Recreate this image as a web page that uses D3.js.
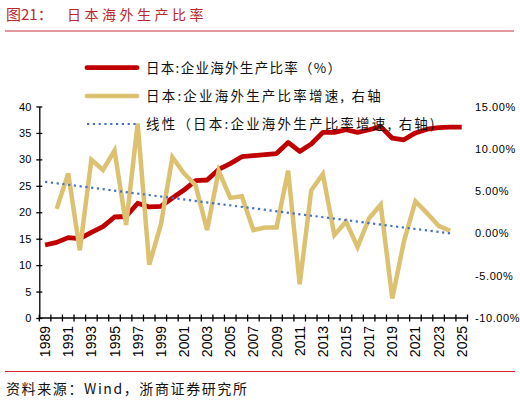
<html><head>
<meta charset="utf-8">
<title>日本海外生产比率</title>
<script src="https://d3js.org/d3.v7.min.js"></script>
<style>
  body { margin: 0; background: #fff; }
  svg text { font-family: "Liberation Sans", Arial, sans-serif; }
  .cjk { font-family: "Noto Sans CJK SC", sans-serif; }
  .axis path, .axis line { stroke: #000; stroke-width: 1.3; }
  .axis text { fill: #000; }
</style>
</head>
<body>
<svg id="chart" width="520" height="402"></svg>
<script>
// categories
const years = [1989, 1990, 1991, 1992, 1993, 1994, 1995, 1996, 1997, 1998, 1999,
  2000, 2001, 2002, 2003, 2004, 2005, 2006, 2007, 2008, 2009, 2010, 2011, 2012,
  2013, 2014, 2015, 2016, 2017, 2018, 2019, 2020, 2021, 2022, 2023, 2024, 2025];

// 日本:企业海外生产比率 (%), left axis
const ratio = [13.8, 14.3, 15.2, 15.0, 16.2, 17.3, 19.1, 19.2, 21.7, 21.0, 21.1,
  22.7, 24.2, 26.0, 26.1, 28.1, 29.2, 30.5, 30.7, 30.9, 31.1, 33.2, 31.5, 32.9,
  35.1, 35.1, 35.6, 35.1, 35.6, 36.2, 34.0, 33.7, 35.0, 35.7, 36.0, 36.1, 36.1];

// 增速 (%), right axis -- no value for 1989 and 2025
const growth = [null, 2.9, 7.1, -2.0, 8.7, 7.5, 9.8, 1.0, 13.0, -3.7, 1.0,
  9.0, 7.1, 5.7, 0.4, 7.4, 4.2, 4.4, 0.4, 0.7, 0.7, 7.4, -6.0, 5.1,
  7.0, -0.2, 1.4, -1.6, 1.8, 3.4, -7.7, -1.0, 3.8, 2.4, 0.9, 0.3, null];

// linear trend of the growth series (end points)
const trendYears = [1989, 2024];
const trendValues = [6.1, 0.0];

// tick labels
const leftTicks = [0, 5, 10, 15, 20, 25, 30, 35, 40];
const rightTicks = [-10, -5, 0, 5, 10, 15];
const labelYears = [1989, 1991, 1993, 1995, 1997, 1999, 2001, 2003, 2005, 2007,
  2009, 2011, 2013, 2015, 2017, 2019, 2021, 2023, 2025];

const legendLabels = [
  "日本:企业海外生产比率（%）",
  "日本:企业海外生产比率增速, 右轴",
  "线性（日本:企业海外生产比率增速, 右轴)"
];

const red = "#c00000", gold = "#dcc171", blue = "#4472c4", titleRed = "#b8282e";

let svg = d3.select("svg#chart");
let plot = { left: 39.3, right: 467.5, top: 106.5, bottom: 318 };

// scales
const x = d3.scaleBand().domain(years).range([plot.left, plot.right]);
const cx = d => x(d) + x.bandwidth() / 2;
const yLeft = d3.scaleLinear().domain([0, 40]).range([plot.bottom, plot.top]);
const yRight = d3.scaleLinear().domain([-10, 15]).range([plot.bottom, plot.top]);

// title + rules
svg.append("text").attr("class", "cjk").attr("x", 6).attr("y", 20)
  .style("font-size", "15px").style("fill", titleRed).text("图21：");
svg.append("text").attr("class", "cjk").attr("x", 67).attr("y", 20)
  .style("font-size", "14px").style("letter-spacing", "3.5px").style("fill", titleRed)
  .text("日本海外生产比率");
svg.append("line").attr("x1", 5).attr("x2", 514).attr("y1", 31).attr("y2", 31)
  .style("stroke", "#c8323a").style("stroke-width", 1);
svg.append("line").attr("x1", 5).attr("x2", 515).attr("y1", 371.5).attr("y2", 371.5)
  .style("stroke", "#d9242b").style("stroke-width", 1);
svg.append("text").attr("class", "cjk").attr("x", 6).attr("y", 394)
  .style("font-size", "14px").style("letter-spacing", "1.6px").style("fill", "#111")
  .text("资料来源：Wind，浙商证券研究所");

// left axis -- ticks cross the axis line
let leftAxis = d3.axisLeft(yLeft).tickValues(leftTicks).tickSizeInner(3).tickSizeOuter(0).tickPadding(5);
let gl = svg.append("g").attr("class", "axis")
  .attr("transform", "translate(" + plot.left + ",0)")
  .call(leftAxis);
gl.selectAll(".tick line").attr("x1", 3).attr("x2", -3);
gl.selectAll("text").style("font-size", "11px");

// right axis, labels only
let rightAxis = d3.axisRight(yRight).tickValues(rightTicks).tickSize(0).tickPadding(7.5)
  .tickFormat(d => d.toFixed(2) + "%");
let gr = svg.append("g").attr("class", "axis")
  .attr("transform", "translate(" + plot.right + ",0)")
  .call(rightAxis);
gr.select(".domain").remove();
gr.selectAll("text").style("font-size", "11px").style("letter-spacing", "0.6px");

// x axis: line, boundary ticks, rotated labels every other year
let gx = svg.append("g").attr("class", "axis");
gx.append("line").attr("x1", plot.left).attr("x2", plot.right)
  .attr("y1", plot.bottom).attr("y2", plot.bottom);
let bounds = years.map(d => x(d)).concat([plot.right]);
gx.selectAll(".xt").data(bounds).enter().append("line").attr("class", "xt")
  .attr("x1", d => d).attr("x2", d => d)
  .attr("y1", plot.bottom - 3.5).attr("y2", plot.bottom + 3.5);
gx.selectAll(".xl").data(labelYears).enter().append("text").attr("class", "xl")
  .attr("transform", d => "translate(" + (cx(d) + 5) + "," + (plot.bottom + 8) + ") rotate(-90)")
  .attr("text-anchor", "end")
  .style("font-size", "14px")
  .text(d => d);

// lines
let ratioLine = d3.line().x((d, i) => cx(years[i])).y(d => yLeft(d));
svg.append("path").datum(ratio).attr("d", ratioLine)
  .style("fill", "none").style("stroke", red).style("stroke-width", 4.8)
  .style("stroke-linejoin", "round");

let growthLine = d3.line().defined(d => d !== null)
  .x((d, i) => cx(years[i])).y(d => yRight(d));
svg.append("path").datum(growth).attr("d", growthLine)
  .style("fill", "none").style("stroke", gold).style("stroke-width", 4.5)
  .style("stroke-linejoin", "miter");

let trendLine = d3.line().x((d, i) => cx(trendYears[i])).y(d => yRight(d));
svg.append("path").datum(trendValues).attr("d", trendLine)
  .style("fill", "none").style("stroke", blue).style("stroke-width", 2.2)
  .style("stroke-dasharray", "2.2,3.6");

// legend
let legend = svg.append("g");
let legendY = [67.7, 96, 124];
let legendSpacing = [1.3, 2.2, 2.2];
legendLabels.forEach((label, i) => {
  let row = legend.append("g").attr("transform", "translate(0," + legendY[i] + ")");
  let line = row.append("line").attr("x1", 87).attr("x2", 137).attr("y1", 0).attr("y2", 0);
  if (i === 0) line.style("stroke", red).style("stroke-width", 4.8).style("stroke-linecap", "round");
  if (i === 1) line.style("stroke", gold).style("stroke-width", 4.5).style("stroke-linecap", "round");
  if (i === 2) line.style("stroke", blue).style("stroke-width", 2.2).style("stroke-dasharray", "2.2,3.6");
  row.append("text").attr("class", "cjk").attr("x", 146).attr("y", 0)
    .attr("dy", "0.36em")
    .style("font-size", "13.5px").style("letter-spacing", legendSpacing[i] + "px").style("fill", "#111")
    .text(label);
});
</script>
</body>
</html>
